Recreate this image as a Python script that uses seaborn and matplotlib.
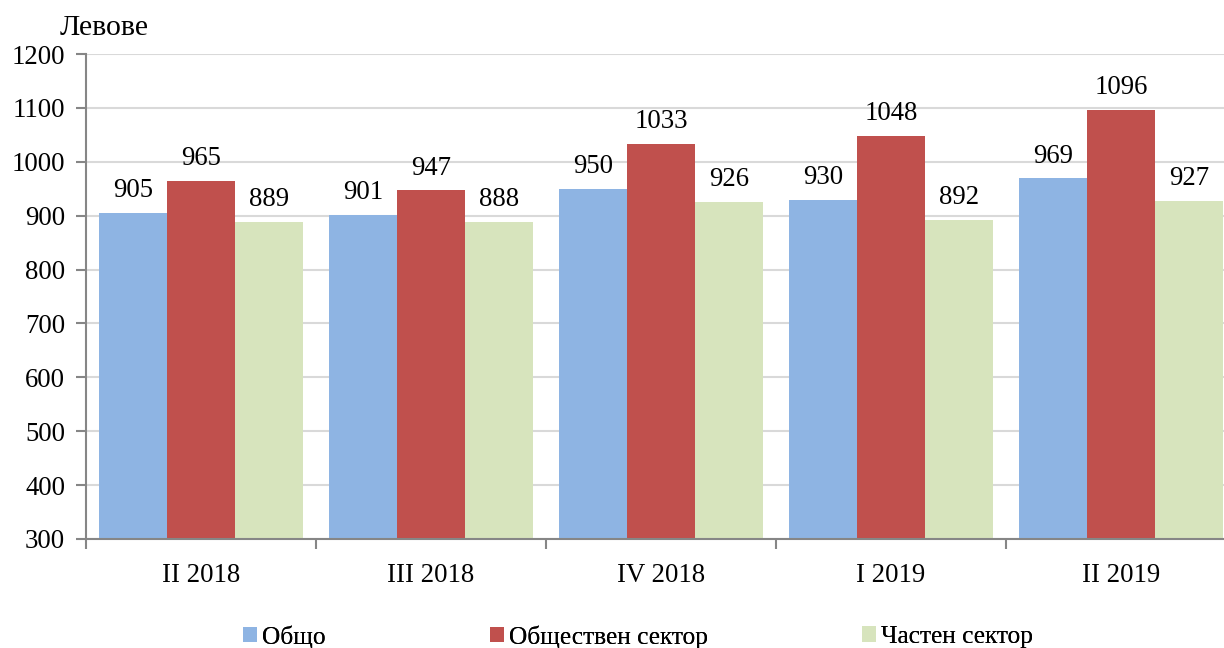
import matplotlib
matplotlib.use("Agg")
import matplotlib.pyplot as plt
import seaborn as sns
import pandas as pd
from matplotlib.patches import Patch

categories = ["II 2018", "III 2018", "IV 2018", "I 2019", "II 2019"]
series_names = ["Общо", "Обществен сектор", "Частен сектор"]
total = [905, 901, 950, 930, 969]
public = [965, 947, 1033, 1048, 1096]
private = [889, 888, 926, 892, 927]
colors = ["#8EB4E3", "#C0504D", "#D7E4BD"]
yticks = [300, 400, 500, 600, 700, 800, 900, 1000, 1100, 1200]

rows = []
for name, vals in zip(series_names, [total, public, private]):
    for c, v in zip(categories, vals):
        rows.append({"cat": c, "series": name, "value": v})
df = pd.DataFrame(rows)

sns.set_theme(style="white")
plt.rcParams["font.family"] = ["Liberation Serif", "DejaVu Serif"]
plt.rcParams["text.color"] = "black"
plt.rcParams["xtick.labelcolor"] = "black"
plt.rcParams["ytick.labelcolor"] = "black"

FS = 19.3
W, H = 1224, 648
fig = plt.figure(figsize=(W / 100, H / 100), dpi=100)
left, right, top, bottom = 86, 1236, 54, 539
ax = fig.add_axes([left / W, 1 - bottom / H, (right - left) / W, (bottom - top) / H])

sns.barplot(data=df, x="cat", y="value", hue="series", order=categories,
            hue_order=series_names, palette=colors, width=0.885, gap=0,
            saturation=1, ax=ax, legend=False, linewidth=0)

ax.set_ylim(300, 1200)
ax.set_xlim(-0.5, 4.5)
ax.set_yticks(yticks)
ax.set_yticklabels([str(t) for t in yticks], fontsize=FS, color="black")
ax.set_xticks(range(len(categories)))
ax.set_xticklabels(categories, fontsize=FS, color="black")
ax.set_xlabel("")
ax.set_ylabel("")
ax.yaxis.grid(True, color="#D9D9D9", linewidth=1.5)
ax.set_axisbelow(True)
for s in ["top", "right"]:
    ax.spines[s].set_visible(False)
for s in ["left", "bottom"]:
    ax.spines[s].set_color("#868686")
    ax.spines[s].set_linewidth(1.5)
ax.tick_params(axis="y", which="major", left=True, length=7, width=1.5, color="#868686", pad=8)
ax.tick_params(axis="x", which="major", bottom=False, pad=11)
ax.set_xticks([i - 0.5 for i in range(len(categories) + 1)], minor=True)
ax.tick_params(axis="x", which="minor", bottom=True, length=7, width=1.5, color="#868686")

for cont in ax.containers:
    ax.bar_label(cont, fmt="%d", padding=7, fontsize=FS, color="black")

fig.text(60 / W, 1 - 28 / H, "Левове", fontsize=21.5, va="center", ha="left", color="black")

leg_x = [243, 490, 862]
for name, col, x in zip(series_names, colors, leg_x):
    lg = fig.legend([Patch(facecolor=col, edgecolor="none")], [name], loc="center left",
                    bbox_to_anchor=(x / W, 1 - 637 / H), frameon=False, fontsize=18.3,
                    handlelength=0.55, handleheight=0.55, handletextpad=0.2,
                    borderpad=0, borderaxespad=0, labelcolor="black")
    fig.add_artist(lg)

fig.savefig("out.png", dpi=100)
